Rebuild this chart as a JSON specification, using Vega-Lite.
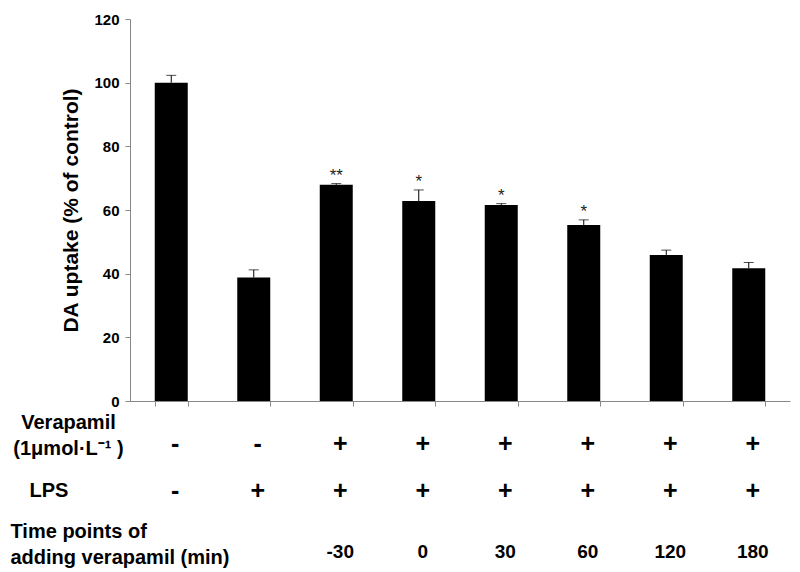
{
  "$schema": "https://vega.github.io/schema/vega-lite/v6.json",
  "padding": {"left": 10, "top": 12, "right": 10, "bottom": 0},
  "background": "white",
  "config": {"view": {"stroke": null}, "font": "Liberation Sans"},
  "data": {"values": [
    {"id": 1, "value": 100.0, "upper": 102.3, "sig": "", "verapamil": "-", "lps": "-", "time": ""},
    {"id": 2, "value": 38.8, "upper": 41.2, "sig": "", "verapamil": "-", "lps": "+", "time": ""},
    {"id": 3, "value": 67.9, "upper": 68.3, "sig": "**", "verapamil": "+", "lps": "+", "time": "-30"},
    {"id": 4, "value": 62.8, "upper": 66.3, "sig": "*", "verapamil": "+", "lps": "+", "time": "0"},
    {"id": 5, "value": 61.6, "upper": 62.0, "sig": "*", "verapamil": "+", "lps": "+", "time": "30"},
    {"id": 6, "value": 55.3, "upper": 56.9, "sig": "*", "verapamil": "+", "lps": "+", "time": "60"},
    {"id": 7, "value": 45.9, "upper": 47.4, "sig": "", "verapamil": "+", "lps": "+", "time": "120"},
    {"id": 8, "value": 41.7, "upper": 43.5, "sig": "", "verapamil": "+", "lps": "+", "time": "180"}
  ]},
  "bounds": "flush",
  "spacing": 20,
  "vconcat": [
    {
      "width": 660,
      "height": 382,
      "encoding": {
        "x": {"field": "id", "type": "ordinal", "sort": null,
          "scale": {"paddingInner": 0.6, "paddingOuter": 0.3},
          "axis": {"labels": false, "title": null, "tickBand": "extent", "domainColor": "#888888", "tickColor": "#888888", "tickSize": 5, "grid": false}}
      },
      "layer": [
        {
          "mark": {"type": "bar", "color": "black"},
          "encoding": {
            "y": {"field": "value", "type": "quantitative",
              "scale": {"domain": [0, 120]},
              "axis": {"values": [0, 20, 40, 60, 80, 100, 120], "grid": false,
                "labelFontSize": 15, "labelFontWeight": "bold", "labelColor": "black", "labelPadding": 6,
                "tickSize": 5, "tickColor": "#888888", "domainColor": "#888888",
                "title": "DA uptake (% of control)", "titleFontSize": 21, "titleFontWeight": "bold",
                "titleColor": "black", "titlePadding": 12}}
          }
        },
        {
          "mark": {"type": "rule", "color": "black", "strokeWidth": 1},
          "encoding": {
            "y": {"field": "value", "type": "quantitative"},
            "y2": {"field": "upper"}
          }
        },
        {
          "mark": {"type": "tick", "orient": "horizontal", "size": 10, "thickness": 1, "color": "black"},
          "encoding": {
            "y": {"field": "upper", "type": "quantitative"}
          }
        },
        {
          "mark": {"type": "text", "fontSize": 17, "color": "#222222", "baseline": "bottom", "dy": 1},
          "encoding": {
            "y": {"field": "upper", "type": "quantitative"},
            "text": {"field": "sig"}
          }
        }
      ]
    },
    {
      "width": 660,
      "height": 151,
      "transform": [{"fold": ["verapamil", "lps", "time"], "as": ["row", "sym"]}],
      "encoding": {
        "x": {"field": "id", "type": "ordinal", "sort": null,
          "scale": {"paddingInner": 0.6, "paddingOuter": 0.3}, "axis": null},
        "y": {"field": "row", "type": "nominal", "sort": ["verapamil", "lps", "time"],
          "scale": {"type": "point", "padding": 0.438},
          "axis": {"title": null, "domain": false, "ticks": false, "grid": false,
            "labelFontSize": 20, "labelFontWeight": "bold", "labelColor": "black",
            "labelLineHeight": 26, "labelOverlap": false, "labelLimit": 0,
            "labelBaseline": "middle",
            "labelExpr": "datum.value == 'verapamil' ? ['Verapamil', '(1μmol·L⁻¹ )'] : datum.value == 'lps' ? 'LPS' : ['Time points of', 'adding verapamil (min)']",
            "labelAlign": {"condition": {"test": "datum.value == 'verapamil'", "value": "center"}, "value": "left"},
            "labelPadding": {"condition": [{"test": "datum.value == 'verapamil'", "value": 62}, {"test": "datum.value == 'lps'", "value": 101}], "value": 120},
            "labelOffset": {"condition": [{"test": "datum.value == 'verapamil'", "value": -21}, {"test": "datum.value == 'lps'", "value": -6}], "value": -18}}
        },
        "text": {"field": "sym"}
      },
      "layer": [
        {
          "transform": [{"filter": "datum.row == 'verapamil'"}],
          "mark": {"type": "text", "fontSize": 25, "fontWeight": "bold", "color": "black", "dx": 4, "baseline": "middle"}
        },
        {
          "transform": [{"filter": "datum.row == 'lps'"}],
          "mark": {"type": "text", "fontSize": 25, "fontWeight": "bold", "color": "black", "dx": 4, "dy": -6, "baseline": "middle"}
        },
        {
          "transform": [{"filter": "datum.row == 'time'"}],
          "mark": {"type": "text", "fontSize": 19, "fontWeight": "bold", "color": "black", "dx": 4, "dy": 3, "baseline": "middle"}
        }
      ]
    }
  ]
}
